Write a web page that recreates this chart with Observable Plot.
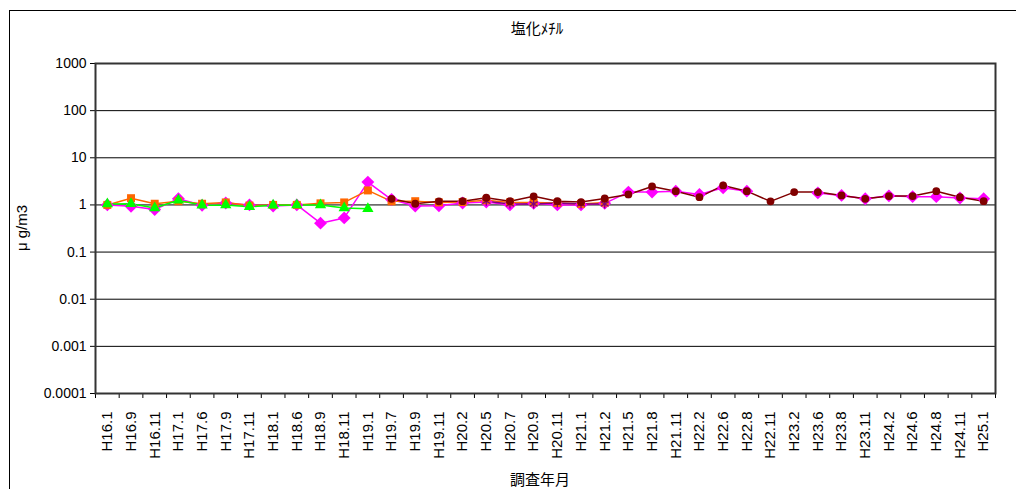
<!DOCTYPE html>
<html><head><meta charset="utf-8">
<script src="https://cdn.jsdelivr.net/npm/d3@7"></script>
<script src="https://cdn.jsdelivr.net/npm/@observablehq/plot@0.6"></script>
<style>
body{margin:0;overflow:hidden;background:#fff;}
#wrap{position:relative;width:1016px;height:489px;overflow:hidden;background:#fff;}
#chart{position:absolute;left:0;top:0;}
#outer{position:absolute;left:9px;top:10px;width:1100px;height:600px;border:1px solid #000;pointer-events:none;}
#title{position:absolute;top:17px;left:437px;width:200px;text-align:center;font:15px "Noto Sans CJK JP",sans-serif;color:#000;}
#xlabel{position:absolute;top:468px;left:440px;width:200px;text-align:center;font:15px "Noto Sans CJK JP",sans-serif;color:#000;}
#ylabel{position:absolute;left:21px;top:228px;transform:translate(-50%,-50%) rotate(-90deg);white-space:nowrap;font:15px "Liberation Sans",Arial,sans-serif;color:#000;}
</style>
</head><body>
<div id="wrap">
<div id="chart"></div>
<div id="outer"></div>
<div id="title">塩化ﾒﾁﾙ</div>
<div id="ylabel">μ g/m3</div>
<div id="xlabel">調査年月</div>
</div>
<script>
const categories = ["H16.1","H16.9","H16.11","H17.1","H17.6","H17.9","H17.11","H18.1","H18.6","H18.9","H18.11","H19.1","H19.7","H19.9","H19.11","H20.2","H20.5","H20.7","H20.9","H20.11","H21.1","H21.2","H21.5","H21.8","H21.11","H22.2","H22.6","H22.8","H22.11","H23.2","H23.6","H23.8","H23.11","H24.2","H24.6","H24.8","H24.11","H25.1"];

const magentaValues = [1.0,0.94,0.80,1.35,0.98,1.1,1.0,0.95,1.0,0.41,0.53,3.05,1.3,0.95,0.96,1.1,1.15,1.0,1.08,1.0,1.0,1.08,1.87,1.87,1.96,1.67,2.32,1.96,null,null,1.8,1.59,1.35,1.56,1.5,1.5,1.4,1.35];
const orangeValues = [1.0,1.39,1.06,1.2,1.06,1.13,0.97,1.0,1.0,1.08,1.13,2.03,1.19,1.2,1.13,1.15,1.25,1.13,1.13,1.1,1.05,1.12,null,null,null,null,null,null,null,null,null,null,null,null,null,null,null,null];
const greenValues = [1.05,1.06,0.86,1.26,0.99,1.0,0.92,0.98,1.0,1.0,0.86,0.83,null,null,null,null,null,null,null,null,null,null,null,null,null,null,null,null,null,null,null,null,null,null,null,null,null,null];
const purpleValues = [null,null,null,null,null,null,null,null,null,null,null,null,null,null,null,null,1.2,1.05,1.05,1.1,1.05,1.05,null,null,null,null,null,null,null,null,null,null,null,null,null,null,null,null];
const darkredValues = [null,null,null,null,null,null,null,null,null,null,null,null,1.35,1.06,1.19,1.2,1.42,1.2,1.52,1.2,1.15,1.37,1.67,2.47,1.96,1.46,2.59,1.96,1.19,1.87,1.87,1.59,1.35,1.54,1.54,1.96,1.46,1.2];

const yTicks = [0.0001,0.001,0.01,0.1,1,10,100,1000];
const yTickLabels = ["0.0001","0.001","0.01","0.1","1","10","100","1000"];

const series = [
  {name:"magenta", values: magentaValues, color:"#FF00FF", symbol:"diamond2", r:5.8, filled:true},
  {name:"orange", values: orangeValues, color:"#FF6600", symbol:"square", r:4.5, filled:true},
  {name:"green", values: greenValues, color:"#00FF00", symbol:"triangle", r:4.2, filled:true},
  {name:"purple", values: purpleValues, color:"#800080", symbol:"asterisk", r:4.3, filled:false},
  {name:"darkred", values: darkredValues, color:"#800000", symbol:"circle", r:3.9, filled:true}
];

const marks = [
  Plot.ruleY(yTicks, {stroke:"#000", strokeWidth:1}),
  Plot.axisY(yTicks, {tickFormat: d => yTickLabels[yTicks.indexOf(d)], tickSize:5, tickPadding:4, fontSize:14, label:null, stroke:"#000"}),
  Plot.axisX(categories.map((c,i)=>i+0.5), {tickFormat: d => categories[Math.round(d-0.5)], tickSize:0, tickPadding:18, tickRotate:-90, fontSize:15, label:null}),
  Plot.axisX(d3.range(0,39), {tickFormat: () => "", tickSize:5, label:null, stroke:"#000"})
];
for (const s of series) {
  const rows = s.values.map((v,i)=>({x:i+0.5, y:v}));
  marks.push(Plot.line(rows, {x:"x", y:"y", stroke:s.color, strokeWidth:1.5}));
}
for (const s of series) {
  const rows = s.values.map((v,i)=>({x:i+0.5, y:v})).filter(d=>d.y!=null);
  if (s.filled) marks.push(Plot.dot(rows, {x:"x", y:"y", symbol:()=>s.symbol, r:s.r, fill:s.color, stroke:"none"}));
  else marks.push(Plot.dot(rows, {x:"x", y:"y", symbol:()=>s.symbol, r:s.r, fill:"none", stroke:s.color, strokeWidth:1.3}));
}
marks.push(Plot.frame({stroke:"#333", strokeWidth:2}));

const chart = Plot.plot({
  width:1016, height:489,
  marginLeft:95, marginRight:21, marginTop:63, marginBottom:96,
  style:{fontFamily:"'Liberation Sans', Arial, sans-serif", color:"#000", background:"transparent"},
  x:{type:"linear", domain:[0,38], axis:null},
  y:{type:"log", domain:[0.0001,1000], axis:null},
  symbol:{type:"identity"},
  marks
});
document.getElementById("chart").appendChild(chart);
</script>
</body></html>
